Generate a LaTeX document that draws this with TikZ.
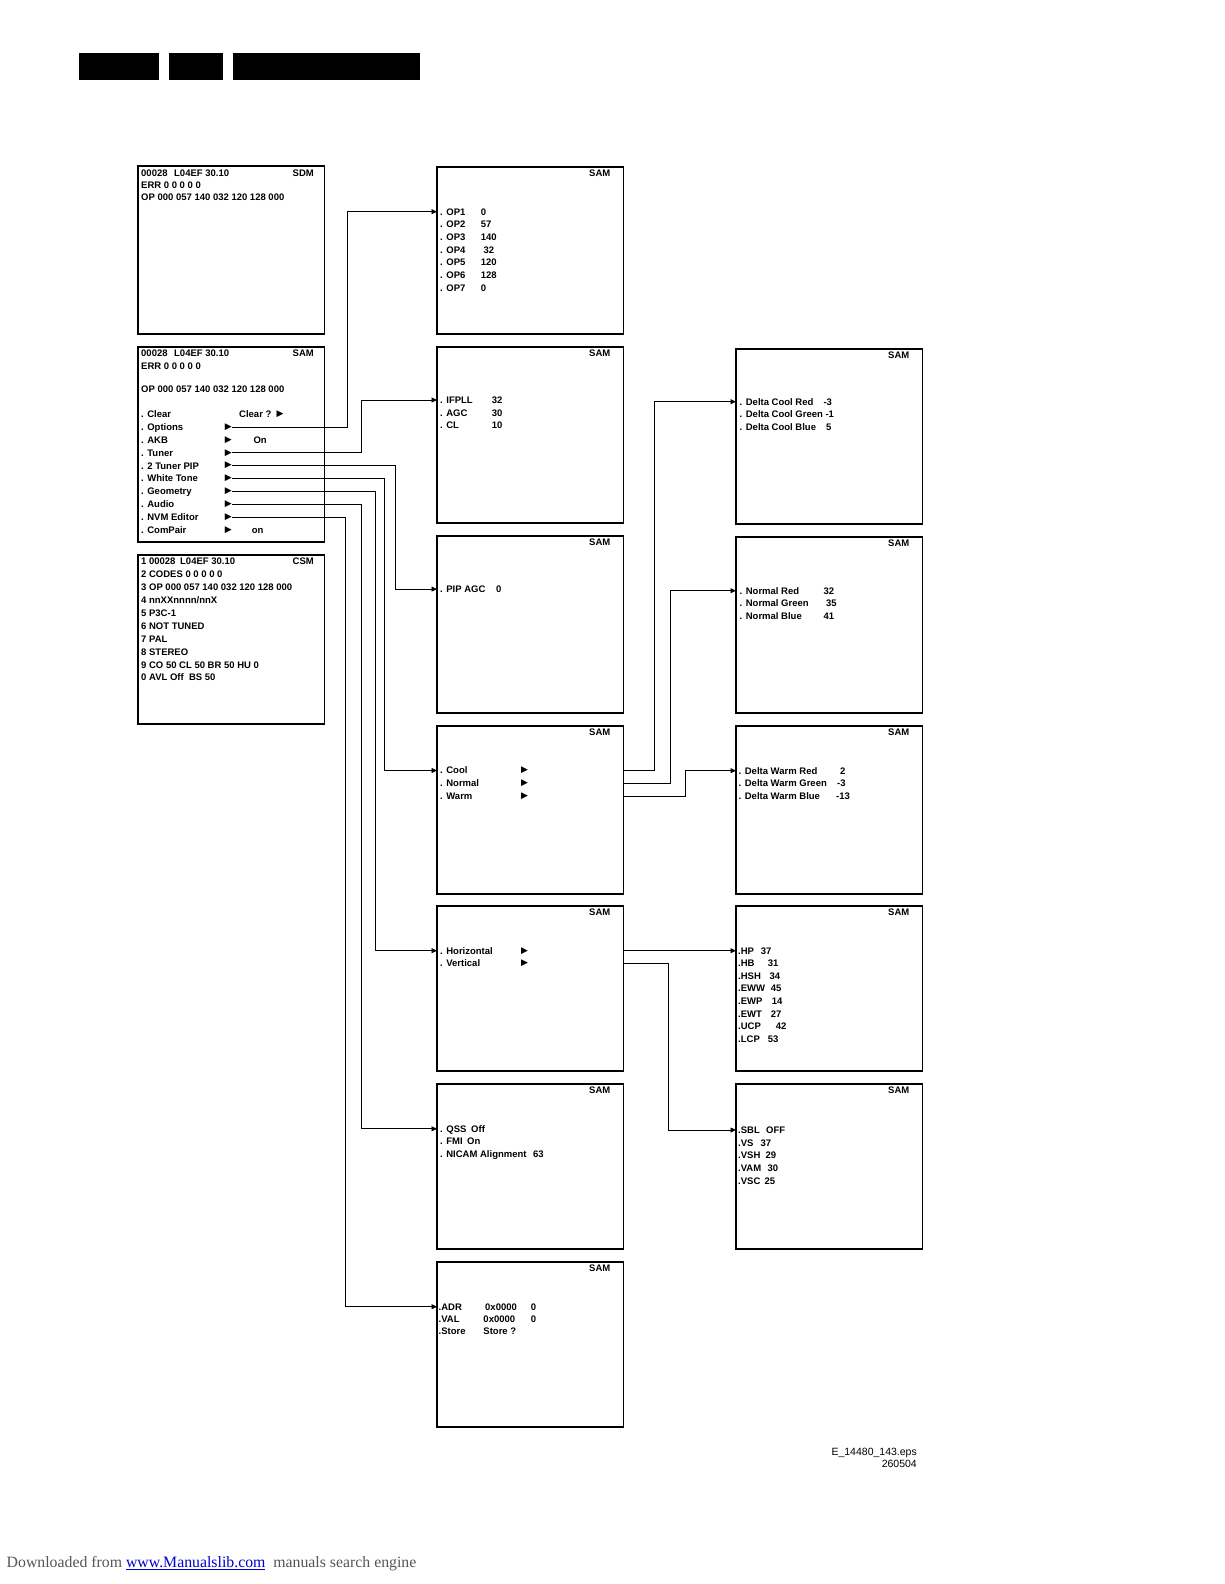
\documentclass[tikz,border=0pt]{standalone}
\usepackage{fontspec}
\setmainfont{Liberation Sans}
\newfontfamily\seriffont{Liberation Serif}
\newfontfamily\markfont{DejaVu Sans}
\usetikzlibrary{calc, arrows.meta}
\definecolor{linkblue}{RGB}{0,0,204}
\definecolor{dlgray}{RGB}{85,85,85}
\newcommand{\rowfont}{\fontsize{9.5}{11}\selectfont\bfseries}
\newcommand{\colbox}[2]{\makebox[#1][l]{#2}}
\tikzset{
    screen/.style={draw, line width=1.5pt, anchor=north west, inner sep=0pt, outer sep=0pt, minimum width=186.5pt},
    row/.style={anchor=base west, inner sep=0pt, text height=6.8pt, text depth=0pt, font=\rowfont},
    tag/.style={row, anchor=base east},
    marker/.style={inner sep=0pt, font={\markfont\fontsize{9}{9}\selectfont}},
    link/.style={line width=0.75pt, -{Triangle[length=5.5pt,width=5pt]}}
}
\begin{document}
\begin{tikzpicture}[x=1pt, y=-1pt]

\fill[white] (0,0) rectangle (1224,1584);
\useasboundingbox (0,0) rectangle (1224,1584);

% Kopfbalken
\fill (79,52.7) rectangle (159,80);
\fill (169,52.7) rectangle (223,80);
\fill (233,52.7) rectangle (420,80);

% Bildschirme linke Spalte
\node[screen, minimum height=168pt] (sdm) at (138,166) {};
\node[screen, minimum height=195pt] (sam) at (138,347) {};
\node[screen, minimum height=169pt] (csm) at (138,555) {};

% Bildschirme mittlere Spalte
\node[screen, minimum height=167pt] (opbox) at (437,167) {};
\node[screen, minimum height=176pt] (tunbox) at (437,347) {};
\node[screen, minimum height=177pt] (pipbox) at (437,536) {};
\node[screen, minimum height=168pt] (wtbox) at (437,726) {};
\node[screen, minimum height=165pt] (geobox) at (437,906) {};
\node[screen, minimum height=165pt] (audbox) at (437,1084) {};
\node[screen, minimum height=165pt] (nvmbox) at (437,1262) {};

% Bildschirme rechte Spalte
\node[screen, minimum height=175pt] (coolbox) at (736,349) {};
\node[screen, minimum height=176pt] (nrmbox) at (736,537) {};
\node[screen, minimum height=168pt] (warmbox) at (736,726) {};
\node[screen, minimum height=165pt] (hpbox) at (736,906) {};
\node[screen, minimum height=165pt] (vsbox) at (736,1084) {};

% SAM-Kennung oben rechts
\node[tag] (opTag) at ($(opbox.north east)+(-13,9)$) {SAM};
\node[tag] (tunTag) at ($(tunbox.north east)+(-13,9)$) {SAM};
\node[tag] (pipTag) at ($(pipbox.north east)+(-13,9)$) {SAM};
\node[tag] (wtTag) at ($(wtbox.north east)+(-13,9)$) {SAM};
\node[tag] (geoTag) at ($(geobox.north east)+(-13,9)$) {SAM};
\node[tag] (audTag) at ($(audbox.north east)+(-13,9)$) {SAM};
\node[tag] (nvmTag) at ($(nvmbox.north east)+(-13,9)$) {SAM};
\node[tag] (coolTag) at ($(coolbox.north east)+(-13,9)$) {SAM};
\node[tag] (nrmTag) at ($(nrmbox.north east)+(-13,9)$) {SAM};
\node[tag] (warmTag) at ($(warmbox.north east)+(-13,9)$) {SAM};
\node[tag] (hpTag) at ($(hpbox.north east)+(-13,9)$) {SAM};
\node[tag] (vsTag) at ($(vsbox.north east)+(-13,9)$) {SAM};

% SDM
\node[row] (sdm1) at (141,176.6) {\colbox{33pt}{00028}L04EF 30.10};
\node[tag] (sdmTag) at (314,176.6) {SDM};
\node[row] (sdm2) at (141,188.6) {ERR 0 0 0 0 0};
\node[row] (sdm3) at (141,200.7) {OP 000 057 140 032 120 128 000};

% SAM Hauptmenue
\node[row] (sam1) at (141,356.7) {\colbox{33pt}{00028}L04EF 30.10};
\node[tag] (samTag) at (314,356.7) {SAM};
\node[row] (sam2) at (141,369.4) {ERR 0 0 0 0 0};
\node[row] (sam3) at (141,392.1) {OP 000 057 140 032 120 128 000};
\node[row] (sClr) at (141,417.4) {\colbox{98pt}{. Clear}Clear ?};
\node[row] (sOpt) at (141,430.3) {. Options};
\node[row] (sAkb) at (141,443.2) {\colbox{112.3pt}{. AKB}On};
\node[row] (sTun) at (141,456.1) {. Tuner};
\node[row] (sPip) at (141,469.0) {. 2 Tuner PIP};
\node[row] (sWt) at (141,481.9) {. White Tone};
\node[row] (sGeo) at (141,494.8) {. Geometry};
\node[row] (sAud) at (141,507.7) {. Audio};
\node[row] (sNvm) at (141,520.6) {. NVM Editor};
\node[row] (sCmp) at (141,533.5) {\colbox{110.7pt}{. ComPair}on};

\node[marker] (mClr) at (280,414.0) {▶};
\node[marker] (mOpt) at (228.3,426.9) {▶};
\node[marker] (mAkb) at (228.3,439.8) {▶};
\node[marker] (mTun) at (228.3,452.7) {▶};
\node[marker] (mPip) at (228.3,465.6) {▶};
\node[marker] (mWt) at (228.3,478.5) {▶};
\node[marker] (mGeo) at (228.3,491.4) {▶};
\node[marker] (mAud) at (228.3,504.3) {▶};
\node[marker] (mNvm) at (228.3,517.2) {▶};
\node[marker] (mCmp) at (228.3,530.1) {▶};

% CSM
\node[row] (csm1) at (141,564.8) {\colbox{39pt}{1 00028}L04EF 30.10};
\node[tag] (csmTag) at (314,564.8) {CSM};
\node[row] (csm2) at (141,577.7) {2 CODES 0 0 0 0 0};
\node[row] (csm3) at (141,590.6) {3 OP 000 057 140 032 120 128 000};
\node[row] (csm4) at (141,603.5) {4 nnXXnnnn/nnX};
\node[row] (csm5) at (141,616.4) {5 P3C-1};
\node[row] (csm6) at (141,629.3) {6 NOT TUNED};
\node[row] (csm7) at (141,642.2) {7 PAL};
\node[row] (csm8) at (141,655.1) {8 STEREO};
\node[row] (csm9) at (141,668.0) {9 CO 50 CL 50 BR 50 HU 0};
\node[row] (csm0) at (141,680.9) {0 AVL Off\ \ BS 50};

% Options
\node[row] (op1) at (440,215.1) {\colbox{40.7pt}{. OP1}0};
\node[row] (op2) at (440,227.8) {\colbox{40.7pt}{. OP2}57};
\node[row] (op3) at (440,240.5) {\colbox{40.7pt}{. OP3}140};
\node[row] (op4) at (440,253.2) {\colbox{43.3pt}{. OP4}32};
\node[row] (op5) at (440,265.9) {\colbox{40.7pt}{. OP5}120};
\node[row] (op6) at (440,278.6) {\colbox{40.7pt}{. OP6}128};
\node[row] (op7) at (440,291.3) {\colbox{40.7pt}{. OP7}0};

% Tuner
\node[row] (ifpll) at (440,403.4) {\colbox{51.7pt}{. IFPLL}32};
\node[row] (agc) at (440,416.1) {\colbox{51.7pt}{. AGC}30};
\node[row] (cl) at (440,428.8) {\colbox{51.7pt}{. CL}10};

% 2 Tuner PIP
\node[row] (pipagc) at (440,592.5) {\colbox{56pt}{. PIP AGC}0};

% White Tone
\node[row] (cool) at (440,773.9) {. Cool};
\node[row] (nrm) at (440,786.8) {. Normal};
\node[row] (warm) at (440,799.7) {. Warm};
\node[marker] (mCool) at (524.5,770.5) {▶};
\node[marker] (mNrm) at (524.5,783.4) {▶};
\node[marker] (mWarm) at (524.5,796.3) {▶};

% Geometry
\node[row] (hor) at (440,954.1) {. Horizontal};
\node[row] (ver) at (440,966.8) {. Vertical};
\node[marker] (mHor) at (524.5,950.7) {▶};
\node[marker] (mVer) at (524.5,963.4) {▶};

% Audio
\node[row] (qss) at (440,1132.2) {\colbox{31pt}{. QSS}Off};
\node[row] (fmi) at (440,1144.7) {\colbox{27pt}{. FMI}On};
\node[row] (nicam) at (440,1157.2) {\colbox{93pt}{. NICAM Alignment}63};

% NVM Editor
\node[row] (adr) at (438.5,1310.1) {\colbox{46.5pt}{.ADR}\colbox{45.7pt}{0x0000}0};
\node[row] (val) at (438.5,1322.5) {\colbox{44.8pt}{.VAL}\colbox{47.4pt}{0x0000}0};
\node[row] (store) at (438.5,1334.6) {\colbox{44.8pt}{.Store}Store ?};

% Cool
\node[row] (dcr) at (739.5,405.1) {\colbox{83.8pt}{. Delta Cool Red}-3};
\node[row] (dcg) at (739.5,417.8) {. Delta Cool Green -1};
\node[row] (dcb) at (739.5,430.5) {\colbox{86.5pt}{. Delta Cool Blue}5};

% Normal
\node[row] (nred) at (739.5,594.1) {\colbox{83.8pt}{. Normal Red}32};
\node[row] (ngrn) at (739.5,606.8) {\colbox{86.5pt}{. Normal Green}35};
\node[row] (nblu) at (739.5,619.5) {\colbox{83.8pt}{. Normal Blue}41};

% Warm
\node[row] (dwr) at (738.5,774.1) {\colbox{101.5pt}{. Delta Warm Red}2};
\node[row] (dwg) at (738.5,786.8) {\colbox{98.5pt}{. Delta Warm Green}-3};
\node[row] (dwb) at (738.5,799.5) {\colbox{97.5pt}{. Delta Warm Blue}-13};

% Horizontal
\node[row] (hp) at (738,954.1) {\colbox{22.7pt}{.HP}37};
\node[row] (hb) at (738,966.7) {\colbox{29.7pt}{.HB}31};
\node[row] (hsh) at (738,979.3) {\colbox{31.3pt}{.HSH}34};
\node[row] (eww) at (738,991.8) {\colbox{32.7pt}{.EWW}45};
\node[row] (ewp) at (738,1004.4) {\colbox{33.7pt}{.EWP}14};
\node[row] (ewt) at (738,1017.0) {\colbox{32.7pt}{.EWT}27};
\node[row] (ucp) at (738,1029.5) {\colbox{37.7pt}{.UCP}42};
\node[row] (lcp) at (738,1042.1) {\colbox{29.7pt}{.LCP}53};

% Vertical
\node[row] (sbl) at (738,1133.4) {\colbox{28pt}{.SBL}OFF};
\node[row] (vs) at (738,1146.2) {\colbox{22.5pt}{.VS}37};
\node[row] (vsh) at (738,1158.9) {\colbox{27.5pt}{.VSH}29};
\node[row] (vam) at (738,1171.7) {\colbox{29.5pt}{.VAM}30};
\node[row] (vsc) at (738,1184.4) {\colbox{26.5pt}{.VSC}25};

% Leitungsführung
\coordinate (busNvm) at (345.5,0);
\coordinate (busOpt) at (347,0);
\coordinate (busTun) at (361,0);
\coordinate (busAud) at (361,0);
\coordinate (busGeo) at (375,0);
\coordinate (busWt) at (384,0);
\coordinate (busPip) at (395.7,0);
\coordinate (busCool) at (654,0);
\coordinate (busVer) at (668,0);
\coordinate (busNrm) at (670.7,0);
\coordinate (busWarm) at (685,0);

% Verbindungen
\draw[link] (mOpt.east) -| (busOpt |- op1) -- (op1 -| opbox.west);
\draw[link] (mTun.east) -| (busTun |- ifpll) -- (ifpll -| tunbox.west);
\draw[link] (mPip.east) -| (busPip |- pipagc) -- (pipagc -| pipbox.west);
\draw[link] (mWt.east) -| (busWt |- cool) -- (cool -| wtbox.west);
\draw[link] (mGeo.east) -| (busGeo |- hor) -- (hor -| geobox.west);
\draw[link] (mAud.east) -| (busAud |- qss) -- (qss -| audbox.west);
\draw[link] (mNvm.east) -| (busNvm |- adr) -- (adr -| nvmbox.west);
\draw[link] (mCool -| wtbox.east) -| (busCool |- dcr) -- (dcr -| coolbox.west);
\draw[link] (mNrm -| wtbox.east) -| (busNrm |- nred) -- (nred -| nrmbox.west);
\draw[link] (mWarm -| wtbox.east) -| (busWarm |- dwr) -- (dwr -| warmbox.west);
\draw[link] (mHor -| geobox.east) -- (mHor -| hpbox.west);
\draw[link] (mVer -| geobox.east) -| (busVer |- sbl) -- (sbl -| vsbox.west);

% Fusszeile
\node[anchor=base east, inner sep=0pt, font=\fontsize{10.5}{12}\selectfont] (epsname) at (917,1455) {E\_14480\_143.eps};
\node[anchor=base east, inner sep=0pt, font=\fontsize{10.5}{12}\selectfont] (epsdate) at (917,1467) {260504};
\node[anchor=base west, inner sep=0pt, font=\seriffont\fontsize{15.8}{18}\selectfont, text=dlgray] (dl) at (6.5,1567.5)
    {Downloaded from \textcolor{linkblue}{\underline{www.Manualslib.com}}\ \ manuals search engine};

\end{tikzpicture}
\end{document}
